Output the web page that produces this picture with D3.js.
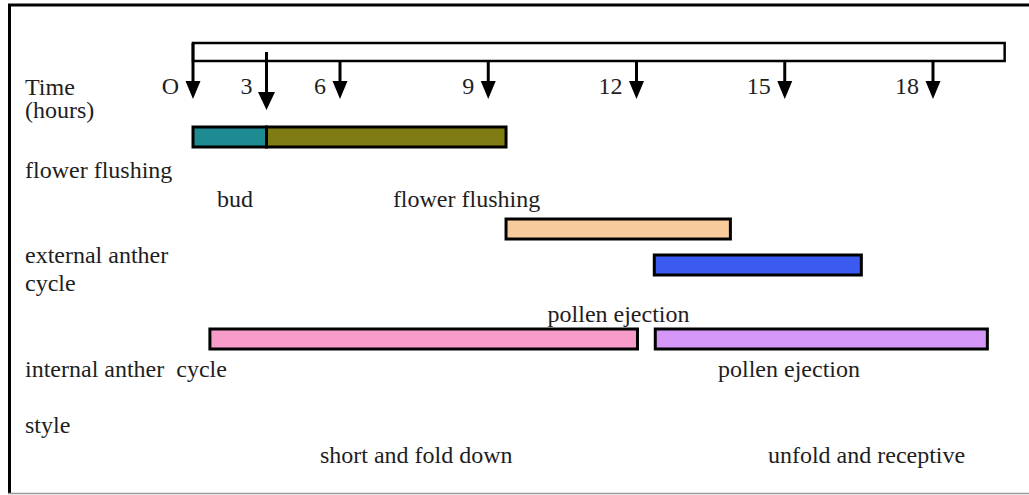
<!DOCTYPE html>
<html>
<head>
<meta charset="utf-8">
<script src="https://cdn.jsdelivr.net/npm/d3@7"></script>
<style>
  body { margin: 0; background: #fff; }
  text { font-family: "Liberation Serif", "Times New Roman", serif; font-size: 24px; fill: #1e1e1e; }
</style>
</head>
<body>
<div id="chart"></div>
<script>
// hours marked along the time bar
var tickHours = [0, 3, 6, 9, 12, 15, 18];
var tickLabels = ["O", "3", "6", "9", "12", "15", "18"];
var timeEnd = 19.45;

// phases: lane, start hour, end hour, fill
var phaseLane = ["flushing", "flushing", "anther", "ejection", "internal", "internal"];
var phaseStart = [0, 3, 9.36, 12.36, 0.69, 12.38];
var phaseEnd = [3, 9.36, 13.9, 16.55, 12.02, 19.1];
var phaseColor = ["#1e8a91", "#7e7c12", "#f8cb9c", "#3a5af0", "#f79bc9", "#d497f7"];

// text under/over the bars
var noteText = ["bud", "flower flushing", "pollen ejection", "pollen ejection", "short and fold down", "unfold and receptive"];
var noteHour = [0.98, 7.07, 10.2, 13.65, 5.18, 14.66];
var noteLane = ["flushingNote", "flushingNote", "ejectionNote", "internalNote", "styleNote", "styleNote"];

// row captions on the left
var rowText = ["Time", "(hours)", "flower flushing", "external anther", "cycle", "internal anther  cycle", "style"];
var rowLane = ["time", "hours", "flushingCap", "antherCap", "cycleCap", "internalCap", "styleCap"];

var W = 1029, H = 495;

var svg = d3.select("#chart").append("svg")
    .attr("width", W)
    .attr("height", H);

// the drawing is not to scale: 0-6 h are squeezed
var x = d3.scaleLinear()
    .domain([0, 6, 18])
    .range([193, 340, 933]);

// vertical layout of lanes (bar tops) and text baselines
var laneY = d3.scaleOrdinal()
    .domain(["flushing", "anther", "ejection", "internal"])
    .range([127, 219, 255, 329]);
var textY = d3.scaleOrdinal()
    .domain(["time", "hours", "flushingCap", "flushingNote", "antherCap", "cycleCap",
             "ejectionNote", "internalCap", "internalNote", "styleCap", "styleNote"])
    .range([95, 118, 178, 207, 263, 291, 322, 377, 377, 433, 463]);
var barH = 20;

// frame
svg.append("line").attr("x1", 8).attr("x2", W).attr("y1", 5).attr("y2", 5)
    .attr("stroke", "#000").attr("stroke-width", 3);
svg.append("line").attr("x1", 9.5).attr("x2", 9.5).attr("y1", 4).attr("y2", 493)
    .attr("stroke", "#000").attr("stroke-width", 3);
svg.append("line").attr("x1", 8).attr("x2", W).attr("y1", 493.5).attr("y2", 493.5)
    .attr("stroke", "#999").attr("stroke-width", 1.5);

// time bar
var barTop = 43, barBottom = 61;
svg.append("rect")
    .attr("x", x(0))
    .attr("y", barTop)
    .attr("width", x(timeEnd) - x(0))
    .attr("height", barBottom - barTop)
    .attr("fill", "#fff")
    .attr("stroke", "#000")
    .attr("stroke-width", 2.5);

// arrows
var arrows = svg.append("g").selectAll("g")
    .data(tickHours)
    .enter().append("g")
    .attr("transform", function(d) { return "translate(" + x(d) + ",0)"; });

arrows.append("line")
    .attr("x1", 0).attr("x2", 0)
    .attr("y1", function(d, i) { return i === 0 ? barTop : (i === 1 ? 52 : barBottom); })
    .attr("y2", function(d, i) { return i === 1 ? 95 : 85; })
    .attr("stroke", "#000")
    .attr("stroke-width", 3);

arrows.append("path")
    .attr("d", function(d, i) {
      var tip = i === 1 ? 110 : 99, w = i === 1 ? 8.5 : 7.5, h = 18;
      return "M" + (-w) + "," + (tip - h) + "L" + w + "," + (tip - h) + "L0," + tip + "Z";
    })
    .attr("fill", "#000");

arrows.append("text")
    .attr("x", -14)
    .attr("y", 94)
    .attr("text-anchor", "end")
    .text(function(d, i) { return tickLabels[i]; });

// phase bars
svg.append("g").selectAll("rect")
    .data(phaseStart)
    .enter().append("rect")
    .attr("x", function(d) { return x(d); })
    .attr("y", function(d, i) { return laneY(phaseLane[i]); })
    .attr("width", function(d, i) { return x(phaseEnd[i]) - x(d); })
    .attr("height", barH)
    .attr("fill", function(d, i) { return phaseColor[i]; })
    .attr("stroke", "#000")
    .attr("stroke-width", 3);

// notes
svg.append("g").selectAll("text")
    .data(noteText)
    .enter().append("text")
    .attr("x", function(d, i) { return x(noteHour[i]); })
    .attr("y", function(d, i) { return textY(noteLane[i]); })
    .text(function(d) { return d; });

// row captions
svg.append("g").selectAll("text")
    .data(rowText)
    .enter().append("text")
    .attr("x", 25)
    .attr("y", function(d, i) { return textY(rowLane[i]); })
    .style("white-space", "pre")
    .text(function(d) { return d; });
</script>
</body>
</html>
